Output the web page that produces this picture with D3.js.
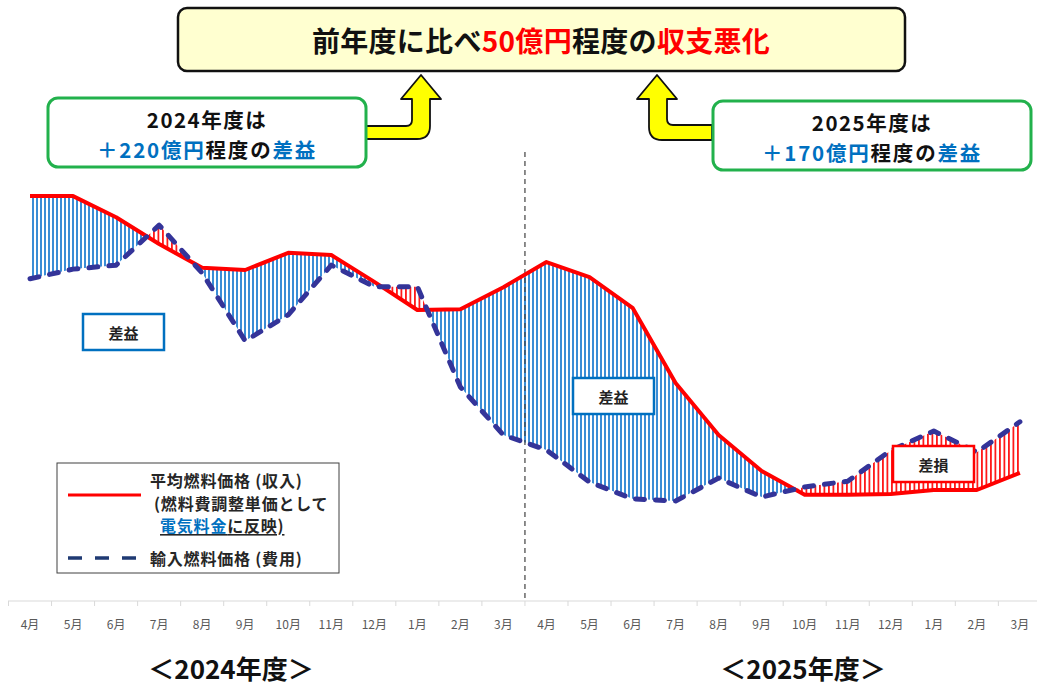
<!DOCTYPE html>
<html>
<head>
<meta charset="utf-8">
<script src="https://cdn.jsdelivr.net/npm/d3@7"></script>
<style>
  body { margin: 0; background: #fff; }
  svg { display: block; font-family: 'Noto Sans CJK JP', 'Noto Sans', sans-serif; }
</style>
</head>
<body>
<div class="svg-container"></div>
<script>
// months of fiscal 2024 and fiscal 2025
const periods = [
  '2024-04', '2024-05', '2024-06', '2024-07', '2024-08', '2024-09',
  '2024-10', '2024-11', '2024-12', '2025-01', '2025-02', '2025-03',
  '2025-04', '2025-05', '2025-06', '2025-07', '2025-08', '2025-09',
  '2025-10', '2025-11', '2025-12', '2026-01', '2026-02', '2026-03'
];
const monthLabels = [
  '4月', '5月', '6月', '7月', '8月', '9月', '10月', '11月', '12月', '1月', '2月', '3月',
  '4月', '5月', '6月', '7月', '8月', '9月', '10月', '11月', '12月', '1月', '2月', '3月'
];
// 平均燃料価格（収入） - relative index
const avgFuelPrice = [
  91.8, 91.8, 87.0, 80.9, 75.5, 75.0, 78.9, 78.4, 72.3, 65.9, 66.1, 71.1,
  76.8, 73.4, 66.4, 49.3, 37.5, 29.3, 23.9, 23.9, 24.1, 25.0, 25.0, 28.9
];
// 輸入燃料価格（費用）
const importFuelPrice = [
  73.0, 75.2, 76.1, 85.2, 74.3, 58.9, 64.8, 76.1, 71.2, 71.2, 48.4, 37.5,
  34.1, 26.8, 23.0, 22.5, 27.7, 23.4, 25.7, 27.0, 34.0, 38.4, 33.6, 40.5
];
const yearLabels = ['＜2024年度＞', '＜2025年度＞'];

const width = 1037;
const height = 687;

const rows = periods.map((p, i) => ({ period: p, income: avgFuelPrice[i], cost: importFuelPrice[i] }));

const svg = d3.select('.svg-container')
  .append('svg')
  .attr('width', width)
  .attr('height', height);

const x = d3.scaleBand()
  .domain(periods)
  .range([8.5, 1041.4]);

const y = d3.scaleLinear()
  .domain([0, 100])
  .range([600, 160]);

const cx = (d) => x(d.period) + x.bandwidth() / 2;

// hatch patterns
const defs = svg.append('defs');

function hatch(id, colour, size, lineW) {
  const p = defs.append('pattern')
    .attr('id', id)
    .attr('patternUnits', 'userSpaceOnUse')
    .attr('width', size)
    .attr('height', 10);
  p.append('rect').attr('width', size).attr('height', 10).attr('fill', '#fff');
  p.append('rect').attr('width', lineW).attr('height', 10).attr('fill', colour);
}
hatch('hatch-blue', '#3a8dd6', 4, 2);
hatch('hatch-red', '#ff1a1a', 4.5, 1.8);

const topY = 0;
const bottomY = height;

// clip: everything above the cost line / above the income line
defs.append('clipPath').attr('id', 'above-cost')
  .append('path')
  .attr('d', d3.area().x(cx).y0(topY).y1((d) => y(d.cost))(rows));

defs.append('clipPath').attr('id', 'above-income')
  .append('path')
  .attr('d', d3.area().x(cx).y0(topY).y1((d) => y(d.income))(rows));

// 差益 : income above cost
svg.append('path')
  .attr('clip-path', 'url(#above-cost)')
  .attr('fill', 'url(#hatch-blue)')
  .attr('d', d3.area().x(cx).y0(bottomY).y1((d) => y(d.income))(rows));

// 差損 : cost above income
svg.append('path')
  .attr('clip-path', 'url(#above-income)')
  .attr('fill', 'url(#hatch-red)')
  .attr('d', d3.area().x(cx).y0(bottomY).y1((d) => y(d.cost))(rows));

// x axis
const axisY = 601;
svg.append('line')
  .attr('x1', 8).attr('x2', width)
  .attr('y1', axisY).attr('y2', axisY)
  .attr('stroke', '#d9d9d9')
  .attr('stroke-width', 1);

svg.append('g')
  .selectAll('line')
  .data(periods)
  .enter()
  .append('line')
  .attr('x1', (d) => x(d)).attr('x2', (d) => x(d))
  .attr('y1', axisY).attr('y2', axisY + 5)
  .attr('stroke', '#d9d9d9');

svg.append('g')
  .selectAll('text')
  .data(periods)
  .enter()
  .append('text')
  .attr('x', (d) => x(d) + x.bandwidth() / 2)
  .attr('y', 623)
  .attr('text-anchor', 'middle')
  .attr('dominant-baseline', 'central')
  .attr('font-size', 12)
  .attr('fill', '#595959')
  .text((d, i) => monthLabels[i]);

// fiscal year divider
const divX = x('2025-04');
svg.append('line')
  .attr('x1', divX).attr('x2', divX)
  .attr('y1', 152).attr('y2', axisY)
  .attr('stroke', '#404040')
  .attr('stroke-width', 1.2)
  .attr('stroke-dasharray', '5,4');

// lines
svg.append('path')
  .attr('fill', 'none')
  .attr('stroke', '#ff0000')
  .attr('stroke-width', 4)
  .attr('stroke-linejoin', 'round')
  .attr('d', d3.line().x(cx).y((d) => y(d.income))(rows));

svg.append('path')
  .attr('fill', 'none')
  .attr('stroke', '#343499')
  .attr('stroke-width', 5)
  .attr('stroke-linecap', 'round')
  .attr('stroke-linejoin', 'round')
  .attr('stroke-dasharray', '9,11')
  .attr('d', d3.line().x(cx).y((d) => y(d.cost))(rows));

// labels in the chart
const tags = [
  { text: '差益', x: 83, y: 314, colour: '#0070c0' },
  { text: '差益', x: 573, y: 378, colour: '#0070c0' },
  { text: '差損', x: 893, y: 446, colour: '#ff0000' }
];
tags.forEach((t) => {
  svg.append('rect')
    .attr('x', t.x).attr('y', t.y)
    .attr('width', 81).attr('height', 36)
    .attr('fill', '#fff')
    .attr('stroke', t.colour)
    .attr('stroke-width', 2.5);
  svg.append('text')
    .attr('x', t.x + 40.5).attr('y', t.y + 18)
    .attr('text-anchor', 'middle')
    .attr('dominant-baseline', 'central')
    .attr('font-size', 15)
    .attr('font-weight', 'bold')
    .attr('fill', '#222')
    .text(t.text);
});

// legend
const legend = svg.append('g');
legend.append('rect')
  .attr('x', 57).attr('y', 463)
  .attr('width', 282).attr('height', 110)
  .attr('fill', '#fff')
  .attr('stroke', '#404040')
  .attr('stroke-width', 1);
legend.append('line')
  .attr('x1', 68).attr('x2', 141).attr('y1', 495).attr('y2', 495)
  .attr('stroke', '#ff0000').attr('stroke-width', 3);
legend.append('line')
  .attr('x1', 68).attr('x2', 141).attr('y1', 558).attr('y2', 558)
  .attr('stroke', '#1f3a73').attr('stroke-width', 3.5)
  .attr('stroke-dasharray', '14,13');

const legText = (tx, ty) => legend.append('text')
  .attr('x', tx).attr('y', ty)
  .attr('dominant-baseline', 'central')
  .attr('font-size', 16)
  .attr('font-weight', 'bold')
  .attr('letter-spacing', 0.8)
  .attr('fill', '#262626');

legText(150, 480).text('平均燃料価格 (収入)');
legText(154, 503).text('(燃料費調整単価として');
const l3 = legText(160, 525).attr('text-decoration', 'underline');
l3.append('tspan').attr('fill', '#0070c0').text('電気料金');
l3.append('tspan').text('に反映)');
legText(150, 558).text('輸入燃料価格 (費用)');

// yellow arrows
const arrows = [
  'M366,126 L406,126 Q412,126 412,120 L412,99 L401,99 L421,75 L441,99 L430,99 L430,126 Q430,139 417,139 L366,139 Z',
  'M712,125 L673,125 Q667,125 667,119 L667,99 L677,99 L657,75 L637,99 L649,99 L649,127 Q649,140 662,140 L712,140 Z'
];
svg.append('g')
  .selectAll('path')
  .data(arrows)
  .enter()
  .append('path')
  .attr('d', (d) => d)
  .attr('fill', '#ffff00')
  .attr('stroke', '#111')
  .attr('stroke-width', 1.8)
  .attr('stroke-linejoin', 'round');

// top banner
svg.append('rect')
  .attr('x', 178).attr('y', 8)
  .attr('width', 727).attr('height', 63)
  .attr('rx', 9)
  .attr('fill', '#ffffd0')
  .attr('stroke', '#111')
  .attr('stroke-width', 2.5);

const title = svg.append('text')
  .attr('x', 541).attr('y', 40)
  .attr('text-anchor', 'middle')
  .attr('dominant-baseline', 'central')
  .attr('font-size', 28)
  .attr('font-weight', 'bold')
  .attr('letter-spacing', 0.3)
  .attr('fill', '#111');
title.append('tspan').text('前年度に比べ');
title.append('tspan').attr('fill', '#ff0000').text('50億円');
title.append('tspan').text('程度の');
title.append('tspan').attr('fill', '#ff0000').text('収支悪化');

// callouts
const callouts = [
  { x: 48, y: 98, year: '2024年度は', amount: '＋220億円' },
  { x: 713, y: 101, year: '2025年度は', amount: '＋170億円' }
];
callouts.forEach((c) => {
  svg.append('rect')
    .attr('x', c.x).attr('y', c.y)
    .attr('width', 318).attr('height', 69)
    .attr('rx', 10)
    .attr('fill', '#fff')
    .attr('stroke', '#22b14c')
    .attr('stroke-width', 3);
  svg.append('text')
    .attr('x', c.x + 159).attr('y', c.y + 21)
    .attr('text-anchor', 'middle')
    .attr('dominant-baseline', 'central')
    .attr('font-size', 20.5)
    .attr('font-weight', 'bold')
    .attr('letter-spacing', 1.5)
    .attr('fill', '#111')
    .text(c.year);
  const t = svg.append('text')
    .attr('x', c.x + 159).attr('y', c.y + 51)
    .attr('text-anchor', 'middle')
    .attr('dominant-baseline', 'central')
    .attr('font-size', 20.5)
    .attr('font-weight', 'bold')
    .attr('letter-spacing', 1.8)
    .attr('fill', '#111');
  t.append('tspan').attr('fill', '#0070c0').text(c.amount);
  t.append('tspan').text('程度の');
  t.append('tspan').attr('fill', '#0070c0').text('差益');
});

// fiscal year labels
svg.append('g')
  .selectAll('text')
  .data(yearLabels)
  .enter()
  .append('text')
  .attr('x', (d, i) => i === 0 ? 231 : 803)
  .attr('y', 667)
  .attr('text-anchor', 'middle')
  .attr('dominant-baseline', 'central')
  .attr('font-size', 26)
  .attr('font-weight', 'bold')
  .attr('fill', '#111')
  .text((d) => d);
</script>
</body>
</html>
